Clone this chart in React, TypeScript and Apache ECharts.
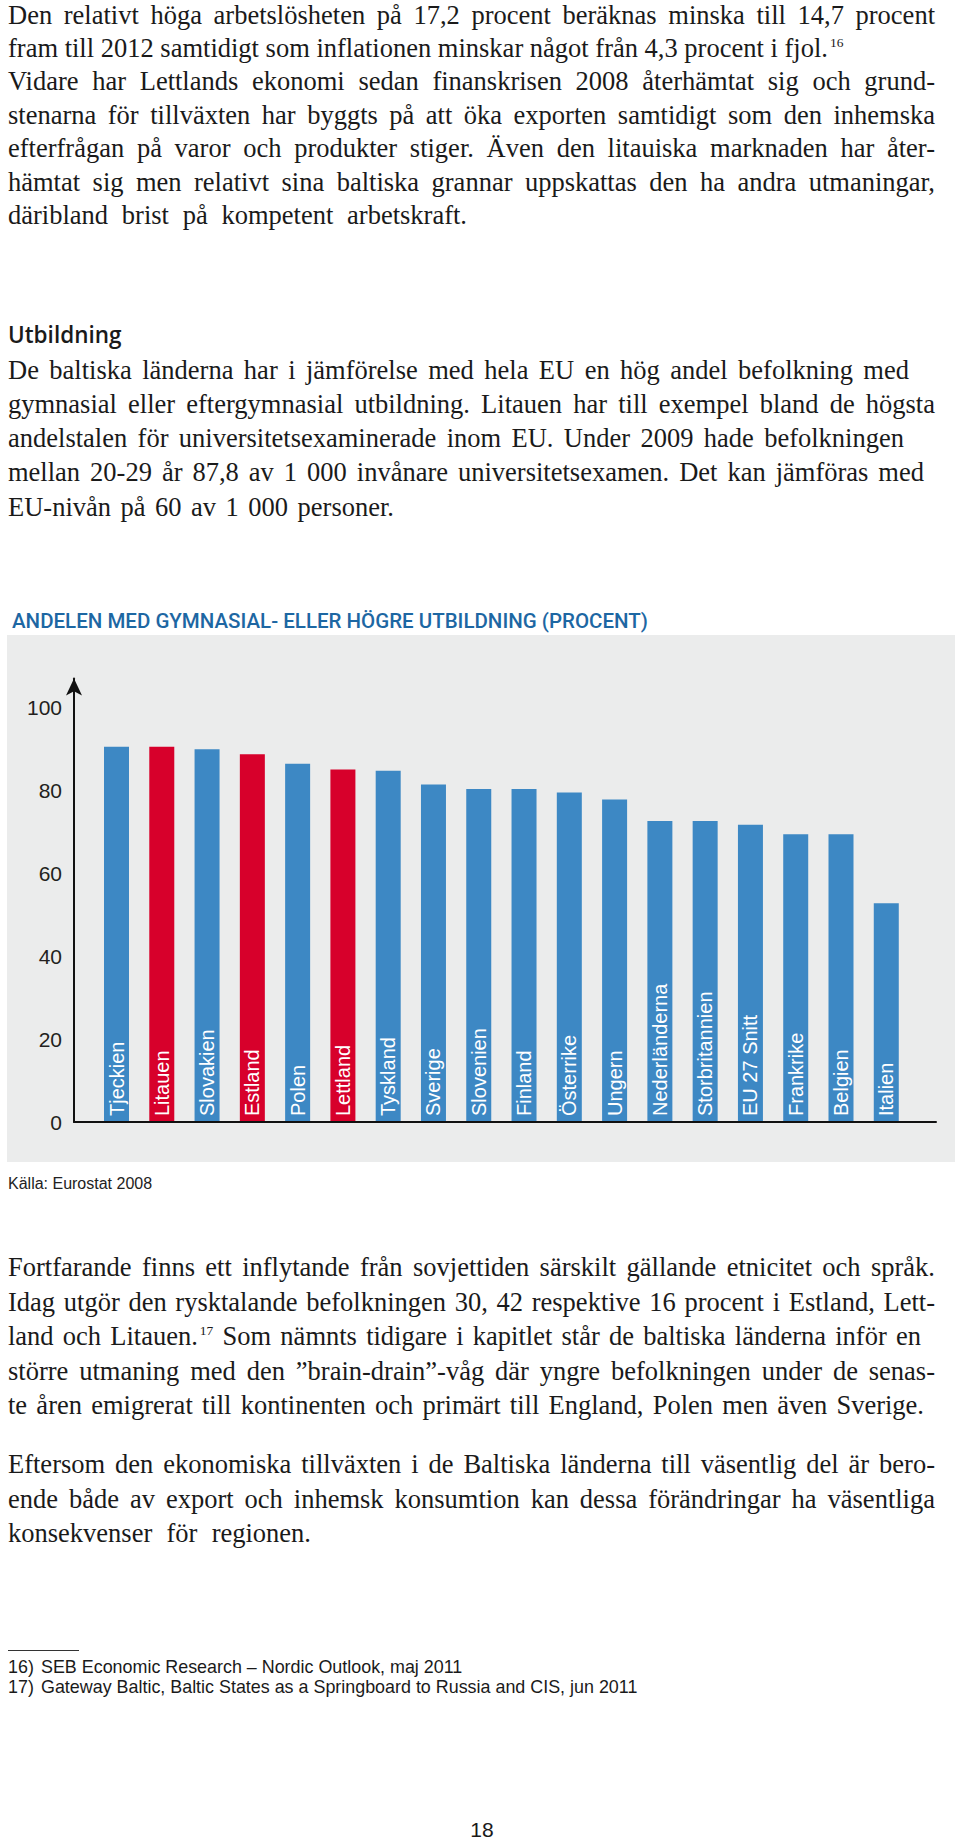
import React, { useEffect, useRef } from "react";
import * as echarts from "echarts";

// ---- chart data ----
const categories = [
  "Tjeckien", "Litauen", "Slovakien", "Estland", "Polen", "Lettland", "Tyskland",
  "Sverige", "Slovenien", "Finland", "Österrike", "Ungern", "Nederländerna",
  "Storbritannien", "EU 27 Snitt", "Frankrike", "Belgien", "Italien",
];
const values = [
  90.6, 90.6, 90.0, 88.8, 86.5, 85.1, 84.8, 81.5, 80.4, 80.4, 79.6, 77.9,
  72.7, 72.7, 71.8, 69.5, 69.5, 52.8,
];
const highlighted = ["Litauen", "Estland", "Lettland"];
const yTickLabels = [0, 20, 40, 60, 80, 100];
const chartTitle = "ANDELEN MED GYMNASIAL- ELLER HÖGRE UTBILDNING (PROCENT)";
const sourceText = "Källa: Eurostat 2008";

// ---- page text ----
type Line = { pre: string; sup?: string; post?: string; w: number };
const para1: Line[] = [
  { pre: "Den relativt höga arbetslösheten på 17,2 procent beräknas minska till 14,7 procent", w: 927 },
  { pre: "fram till 2012 samtidigt som inflationen minskar något från 4,3 procent i fjol.", sup: "16", w: 585 },
  { pre: "Vidare har Lettlands ekonomi sedan finanskrisen 2008 återhämtat sig och grund-", w: 927 },
  { pre: "stenarna för tillväxten har byggts på att öka exporten samtidigt som den inhemska", w: 927 },
  { pre: "efterfrågan på varor och produkter stiger. Även den litauiska marknaden har åter-", w: 927 },
  { pre: "hämtat sig men relativt sina baltiska grannar uppskattas den ha andra utmaningar,", w: 927 },
  { pre: "däribland brist på kompetent arbetskraft.", w: 459 },
];
const para2: Line[] = [
  { pre: "De baltiska länderna har i jämförelse med hela EU en hög andel befolkning med", w: 901 },
  { pre: "gymnasial eller eftergymnasial utbildning. Litauen har till exempel bland de högsta", w: 927 },
  { pre: "andelstalen för universitetsexaminerade inom EU. Under 2009 hade befolkningen", w: 896 },
  { pre: "mellan 20-29 år 87,8 av 1 000 invånare universitetsexamen. Det kan jämföras med", w: 916 },
  { pre: "EU-nivån på 60 av 1 000 personer.", w: 386 },
];
const para3: Line[] = [
  { pre: "Fortfarande finns ett inflytande från sovjettiden särskilt gällande etnicitet och språk.", w: 927 },
  { pre: "Idag utgör den rysktalande befolkningen 30, 42 respektive 16 procent i Estland, Lett-", w: 927 },
  { pre: "land och Litauen.", sup: "17", post: " Som nämnts tidigare i kapitlet står de baltiska länderna inför en", w: 913 },
  { pre: "större utmaning med den ”brain-drain”-våg där yngre befolkningen under de senas-", w: 927 },
  { pre: "te åren emigrerat till kontinenten och primärt till England, Polen men även Sverige.", w: 916 },
];
const para4: Line[] = [
  { pre: "Eftersom den ekonomiska tillväxten i de Baltiska länderna till väsentlig del är bero-", w: 927 },
  { pre: "ende både av export och inhemsk konsumtion kan dessa förändringar ha väsentliga", w: 927 },
  { pre: "konsekvenser för regionen.", w: 303 },
];
const footnotes = [
  { n: "16)", t: "SEB Economic Research – Nordic Outlook, maj 2011" },
  { n: "17)", t: "Gateway Baltic, Baltic States as a Springboard to Russia and CIS, jun 2011" },
];

const SERIF = '"Liberation Serif", "Times New Roman", serif';
const SANS = '"Liberation Sans", Arial, sans-serif';

function Para({ lines, y0, step }: { lines: Line[]; y0: number; step: number }) {
  return (
    <>
      {lines.map((l, i) => (
        <div
          key={i}
          style={{
            position: "absolute",
            left: 8,
            top: y0 + i * step - 16.7,
            width: l.w,
            height: 27.5,
            lineHeight: "27.5px",
            fontFamily: SERIF,
            fontSize: 26.5,
            color: "#1a1a1a",
            whiteSpace: "nowrap",
            textAlign: "justify",
            textAlignLast: "justify",
          }}
        >
          {l.pre}
          {l.sup ? (
            <span style={{ fontSize: 13.5, position: "relative", top: -10, marginLeft: 2 }}>{l.sup}</span>
          ) : null}
          {l.post ?? ""}
        </div>
      ))}
    </>
  );
}

function Chart() {
  const ref = useRef<HTMLDivElement>(null);
  useEffect(() => {
    if (!ref.current) return;
    const chart = echarts.init(ref.current, undefined, { renderer: "svg" });
    chart.setOption({
      animation: false,
      title: {
        text: chartTitle,
        left: 7,
        top: 10,
        textStyle: {
          fontFamily: "Roboto",
          fontWeight: 500,
          fontSize: 20.5,
          color: "#1d67a3",
        },
      },
      graphic: [
        {
          type: "rect",
          z: -10,
          silent: true,
          shape: { x: 7, y: 40, width: 948, height: 527 },
          style: { fill: "#ebecec" },
        },
        {
          type: "text",
          x: 8,
          y: 588,
          style: {
            text: sourceText,
            fontFamily: SANS,
            fontSize: 16,
            fill: "#222",
            verticalAlign: "middle",
          },
        },
      ],
      grid: { left: 74, top: 83.5, width: 862, height: 443.5, containLabel: false },
      xAxis: {
        type: "value",
        min: -0.9386,
        max: 18.098,
        z: 3,
        axisLine: { show: true, onZero: false, lineStyle: { color: "#111", width: 2 } },
        axisTick: { show: false },
        axisLabel: { show: false },
        splitLine: { show: false },
      },
      yAxis: {
        type: "value",
        min: 0,
        max: 107.1,
        interval: 20,
        axisLine: {
          show: true,
          onZero: false,
          symbol: ["none", "arrow"],
          symbolSize: [12, 17],
          lineStyle: { color: "#111", width: 2 },
        },
        axisTick: { show: false },
        splitLine: { show: false },
        axisLabel: {
          margin: 12,
          fontSize: 21,
          color: "#231f20",
          fontFamily: SANS,
          formatter: (v: number) => (yTickLabels.includes(v) ? String(v) : ""),
        },
      },
      series: [
        {
          type: "bar",
          barWidth: 25,
          data: values.map((v, i) => ({
            value: [i, v],
            name: categories[i],
            itemStyle: { color: highlighted.includes(categories[i]) ? "#d7002b" : "#3d88c4" },
          })),
          label: {
            show: true,
            position: "insideBottom",
            rotate: 90,
            align: "left",
            verticalAlign: "middle",
            distance: 6,
            color: "#ffffff",
            fontSize: 20,
            fontFamily: SANS,
            formatter: (p: any) => categories[p.dataIndex],
          },
        },
      ],
    });
    return () => chart.dispose();
  }, []);
  return (
    <div
      ref={ref}
      style={{ position: "absolute", left: 0, top: 595, width: 960, height: 610 }}
    />
  );
}

export default function App() {
  return (
    <div style={{ position: "absolute", left: 0, top: 0, width: 960, height: 1840, background: "#fff", overflow: "hidden" }}>
      <Para lines={para1} y0={18.2} step={33.4} />
      <div
        style={{
          position: "absolute",
          left: 8,
          top: 318,
          height: 34,
          lineHeight: "34px",
          fontFamily: '"Open Sans", sans-serif',
          fontWeight: 600,
          fontSize: 22.5,
          color: "#1a1a1a",
        }}
      >
        Utbildning
      </div>
      <Para lines={para2} y0={373.5} step={34.2} />
      <Chart />
      <Para lines={para3} y0={1271} step={34.5} />
      <Para lines={para4} y0={1468} step={34.3} />
      <div style={{ position: "absolute", left: 8, top: 1650, width: 71, height: 1, background: "#333" }} />
      {footnotes.map((f, i) => (
        <div
          key={f.n}
          style={{
            position: "absolute",
            left: 8,
            top: 1657 + i * 20,
            height: 20,
            lineHeight: "20px",
            fontFamily: SANS,
            fontSize: 17.9,
            color: "#1a1a1a",
            whiteSpace: "nowrap",
          }}
        >
          <span style={{ display: "inline-block", width: 33 }}>{f.n}</span>
          {f.t}
        </div>
      ))}
      <div
        style={{
          position: "absolute",
          left: 432,
          width: 100,
          top: 1818,
          textAlign: "center",
          fontFamily: SANS,
          fontSize: 21,
          lineHeight: "24px",
          color: "#1a1a1a",
        }}
      >
        18
      </div>
    </div>
  );
}
